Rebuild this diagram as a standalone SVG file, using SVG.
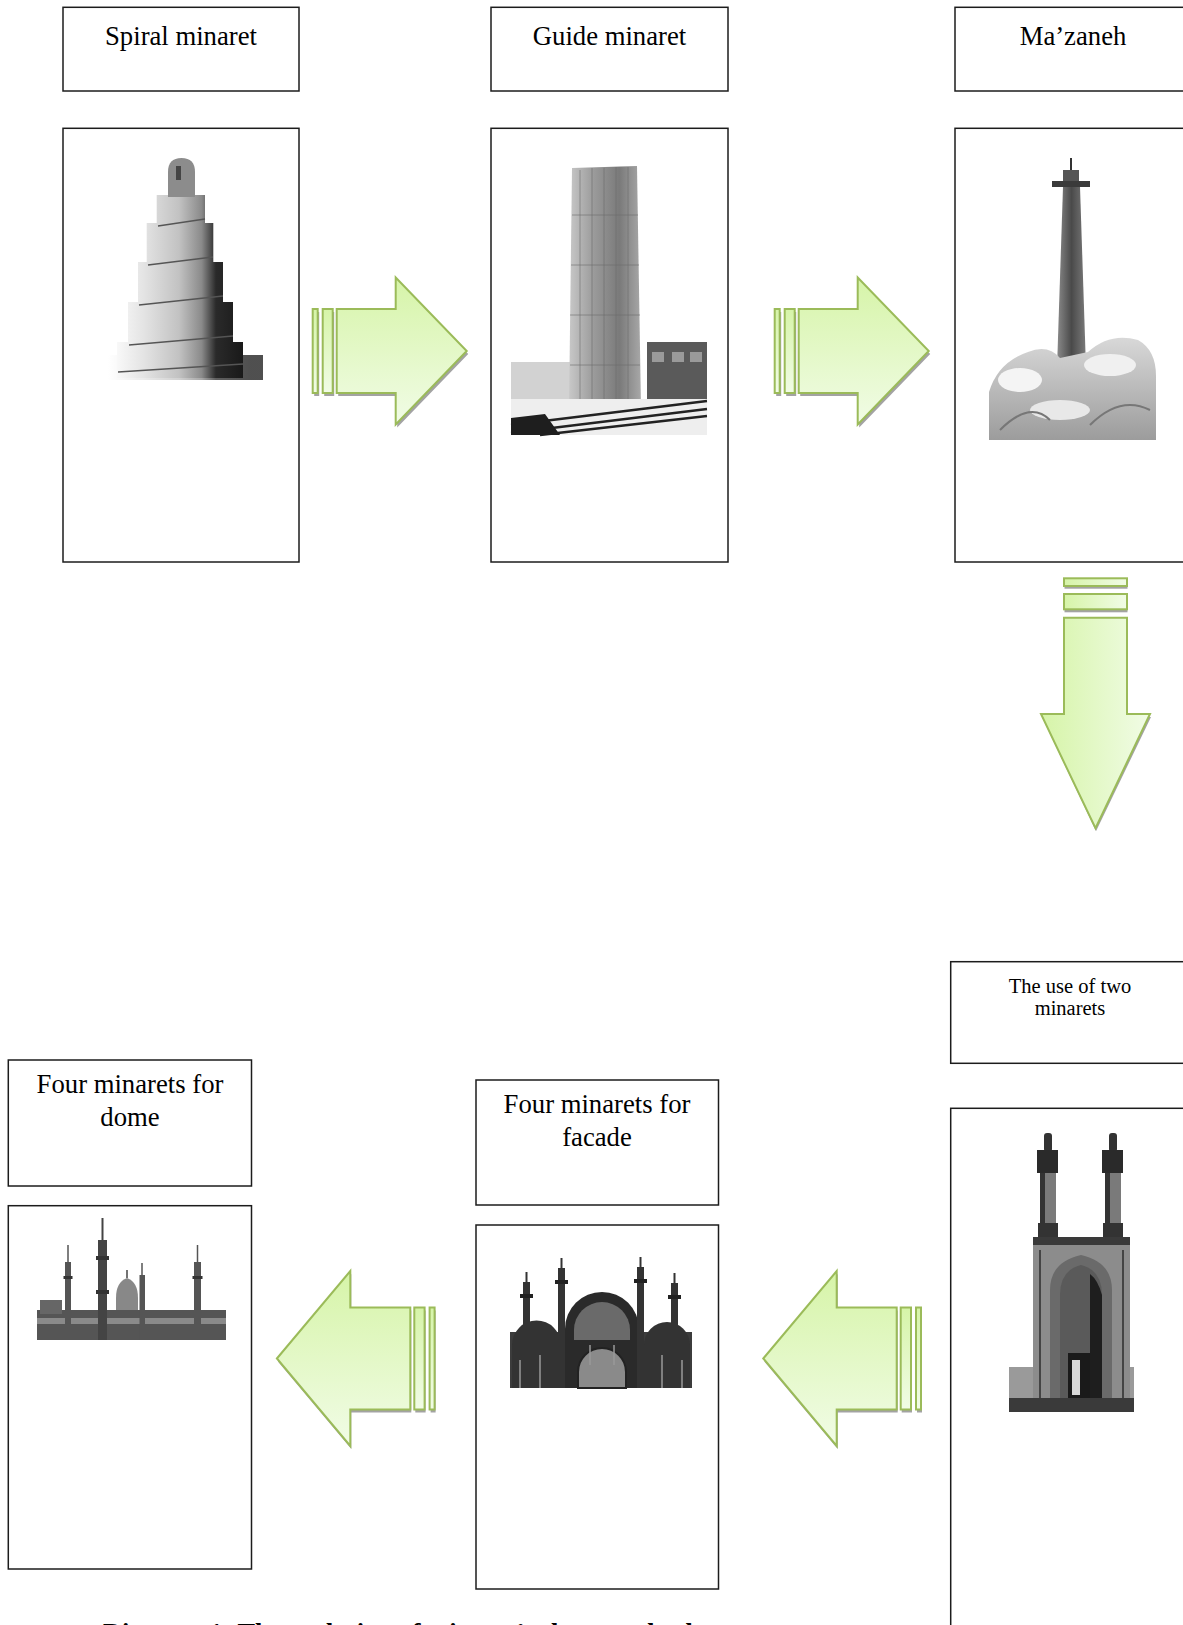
<svg xmlns="http://www.w3.org/2000/svg" width="1183" height="1625" viewBox="0 0 1183 1625">
<defs>
<style>
.box{fill:#fff;stroke:#1c1c1c;stroke-width:1.5}
.t{font-family:"Liberation Serif","Times New Roman",serif;fill:#000;text-anchor:middle}
.arr{fill:url(#gArr);stroke:#9bbb59;stroke-width:2;stroke-linejoin:miter}
.arrD{fill:url(#gArrD);stroke:#9bbb59;stroke-width:2;stroke-linejoin:miter}
.shd{fill:#a3a3a3}
.dk{fill:#2c2c2c}
.ln{stroke:#555;stroke-width:1.4;fill:none}
</style>
<linearGradient id="gArr" x1="0" y1="0" x2="0" y2="1">
<stop offset="0" stop-color="#d6f4a8"/>
<stop offset="1" stop-color="#f1fce6"/>
</linearGradient>
<linearGradient id="gArrD" x1="0" y1="0" x2="1" y2="0">
<stop offset="0" stop-color="#d6f4a8"/>
<stop offset="1" stop-color="#f1fce6"/>
</linearGradient>
<linearGradient id="gSp" gradientUnits="userSpaceOnUse" x1="108" y1="0" x2="250" y2="0">
<stop offset="0" stop-color="#ffffff"/>
<stop offset="0.25" stop-color="#e4e4e4"/>
<stop offset="0.5" stop-color="#c2c2c2"/>
<stop offset="0.66" stop-color="#8a8a8a"/>
<stop offset="0.76" stop-color="#2a2a2a"/>
<stop offset="1" stop-color="#151515"/>
</linearGradient>
<linearGradient id="gTower" x1="0" y1="0" x2="1" y2="0">
<stop offset="0" stop-color="#c8c8c8"/>
<stop offset="0.35" stop-color="#9a9a9a"/>
<stop offset="0.7" stop-color="#7a7a7a"/>
<stop offset="1" stop-color="#a8a8a8"/>
</linearGradient>
<linearGradient id="gMaz" x1="0" y1="0" x2="1" y2="0">
<stop offset="0" stop-color="#8a8a8a"/>
<stop offset="0.5" stop-color="#4a4a4a"/>
<stop offset="1" stop-color="#7a7a7a"/>
</linearGradient>
<linearGradient id="gSnow" x1="0" y1="0" x2="0" y2="1">
<stop offset="0" stop-color="#d8d8d8"/>
<stop offset="1" stop-color="#9c9c9c"/>
</linearGradient>
<g id="arrowR">
<rect class="shd" x="1.5" y="-39" width="5" height="84"/>
<rect class="shd" x="11.5" y="-39" width="10" height="84"/>
<path class="shd" d="M25.5,-39 H84.5 V-70.5 L155.5,3 L84.5,76.5 V45 H25.5 Z"/>
<rect class="arr" x="0" y="-42" width="5" height="84"/>
<rect class="arr" x="10" y="-42" width="10" height="84"/>
<path class="arr" d="M24,-42 H83 V-73.5 L154,0 L83,73.5 V42 H24 Z"/>
</g>
<g id="arrowL">
<path class="shd" d="M1,3 L74.4,-84.5 V-48 H134.4 V54 H74.4 V90.5 Z"/>
<rect class="shd" x="138.4" y="-48" width="10.3" height="102"/>
<rect class="shd" x="153.7" y="-48" width="5" height="102"/>
<path class="arr" d="M0,0 L73.4,-87.5 V-51 H133.4 V51 H73.4 V87.5 Z"/>
<rect class="arr" x="137.4" y="-51" width="10.3" height="102"/>
<rect class="arr" x="152.7" y="-51" width="5" height="102"/>
</g>
</defs>
<rect x="0" y="0" width="1183" height="1625" fill="#fff"/>

<g id="node-spiral">
<rect class="box" x="63" y="7.3" width="236" height="83.7"/>
<text class="t" x="181" y="45" font-size="26.7">Spiral minaret</text>
<rect class="box" x="63" y="128.3" width="236" height="433.7"/>
<rect x="108" y="355" width="155" height="25" fill="url(#gSp)" opacity="0.75"/>
<rect x="117" y="342" width="126" height="36" fill="url(#gSp)"/>
<rect x="128" y="302" width="105" height="40" fill="url(#gSp)"/>
<rect x="138" y="262" width="85" height="40" fill="url(#gSp)"/>
<rect x="146.7" y="223" width="66.6" height="39" fill="url(#gSp)"/>
<rect x="156.7" y="195" width="48.3" height="28" fill="url(#gSp)"/>
<path d="M168,197 V172 Q168,158 181.5,158 Q195,158 195,172 V197 Z" fill="#8c8c8c"/>
<rect x="176" y="166" width="5" height="14" fill="#444"/>
<path class="ln" d="M158,226 L205,219 M148,265 L213,257 M139,305 L223,296 M129,345 L233,336 M118,372 L243,364"/>
</g>

<g id="node-guide">
<rect class="box" x="491" y="7.3" width="237" height="83.7"/>
<text class="t" x="609.5" y="45" font-size="26.7">Guide minaret</text>
<rect class="box" x="491" y="128.3" width="237" height="433.7"/>
<rect x="511" y="362" width="59" height="47" fill="#d2d2d2"/>
<path d="M572,168 L637,166 L641,409 L569,409 Z" fill="url(#gTower)"/>
<path d="M580,170 V405 M592,168 V407 M604,168 V408 M616,167 V408 M628,167 V408 M572,215 H638 M571,265 H639 M570,315 H640 M570,365 H640" stroke="#6a6a6a" stroke-width="1" fill="none" opacity="0.6"/>
<rect x="647" y="342" width="60" height="67" fill="#5a5a5a"/>
<rect x="652" y="352" width="12" height="10" fill="#9a9a9a"/>
<rect x="672" y="352" width="12" height="10" fill="#9a9a9a"/>
<rect x="690" y="352" width="12" height="10" fill="#9a9a9a"/>
<rect x="511" y="399" width="196" height="36" fill="#eeeeee"/>
<path d="M511,425 L707,401 M511,433 L707,409 M540,435 L707,416" stroke="#222" stroke-width="2.5" fill="none"/>
<path d="M511,435 L511,418 L545,414 L560,435 Z" fill="#1e1e1e"/>
</g>

<g id="node-mazaneh">
<rect class="box" x="955" y="7.3" width="236" height="83.7"/>
<text class="t" x="1073" y="45" font-size="26.7">Ma’zaneh</text>
<rect class="box" x="955" y="128.3" width="236" height="433.7"/>
<line x1="1071" y1="158" x2="1071" y2="172" stroke="#333" stroke-width="2"/>
<rect x="1063" y="170" width="16" height="12" fill="#555"/>
<rect x="1052" y="181" width="38" height="6" fill="#3a3a3a"/>
<path d="M1063,187 H1080 L1086,368 H1057 Z" fill="url(#gMaz)"/>
<path d="M989,440 L989,392 Q998,362 1028,352 Q1048,344 1060,358 L1088,352 Q1110,332 1138,340 Q1156,350 1156,376 L1156,440 Z" fill="url(#gSnow)"/>
<ellipse cx="1020" cy="380" rx="22" ry="12" fill="#f4f4f4"/>
<ellipse cx="1110" cy="365" rx="26" ry="11" fill="#f0f0f0"/>
<ellipse cx="1060" cy="410" rx="30" ry="10" fill="#e8e8e8"/>
<path d="M1000,430 Q1030,400 1050,420 M1090,425 Q1120,395 1150,410" stroke="#777" stroke-width="2" fill="none"/>
</g>

<g id="node-two">
<rect class="box" x="950.7" y="961.7" width="236" height="101.6"/>
<text class="t" x="1070" y="993" font-size="20.5">The use of two</text>
<text class="t" x="1070" y="1015" font-size="20.5">minarets</text>
<rect class="box" x="950.7" y="1108.3" width="236" height="600"/>
<rect x="1044" y="1133" width="8" height="19" rx="3" fill="#333"/>
<rect x="1037" y="1150" width="21" height="23" fill="#2a2a2a"/>
<rect x="1040" y="1173" width="16" height="65" fill="#7a7a7a"/>
<rect x="1040" y="1173" width="5" height="65" fill="#333"/>
<rect x="1038" y="1223" width="20" height="14" fill="#333"/>
<rect x="1109" y="1133" width="8" height="19" rx="3" fill="#333"/>
<rect x="1102" y="1150" width="21" height="23" fill="#2a2a2a"/>
<rect x="1105" y="1173" width="16" height="65" fill="#7a7a7a"/>
<rect x="1105" y="1173" width="5" height="65" fill="#333"/>
<rect x="1103" y="1223" width="20" height="14" fill="#333"/>
<rect x="1009" y="1367" width="125" height="45" fill="#9a9a9a"/>
<rect x="1033" y="1237" width="97" height="175" fill="#8c8c8c"/>
<rect x="1033" y="1237" width="97" height="8" fill="#3a3a3a"/>
<path d="M1040,1250 V1405 M1123,1250 V1405" stroke="#444" stroke-width="2"/>
<path d="M1050,1405 V1290 Q1050,1262 1081,1255 Q1112,1262 1112,1290 V1405 Z" fill="#6a6a6a"/>
<path d="M1060,1403 V1295 Q1060,1270 1081,1265 Q1102,1270 1102,1295 V1403 Z" fill="#5a5a5a"/>
<path d="M1090,1403 V1274 Q1098,1280 1102,1295 V1403 Z" fill="#1e1e1e"/>
<rect x="1068" y="1353" width="22" height="50" fill="#1a1a1a"/>
<rect x="1072" y="1360" width="8" height="35" fill="#d8d8d8"/>
<rect x="1009" y="1398" width="125" height="14" fill="#3a3a3a"/>
</g>

<g id="node-facade">
<rect class="box" x="476" y="1080" width="242.5" height="125"/>
<text class="t" x="597" y="1113" font-size="26.7">Four minarets for</text>
<text class="t" x="597" y="1146" font-size="26.7">facade</text>
<rect class="box" x="476" y="1225" width="242.5" height="364"/>
<rect x="510" y="1332" width="182" height="56" fill="#3c3c3c"/>
<path d="M512,1388 V1345 A24.5,24.5 0 0 1 561,1345 V1388 Z" fill="#333"/>
<path d="M644,1388 V1345 A23,23 0 0 1 690,1345 V1388 Z" fill="#333"/>
<path d="M565,1388 V1329 A37,37 0 0 1 639,1329 V1388 Z" fill="#2a2a2a"/>
<path d="M574,1340 V1330 A28,28 0 0 1 630,1330 V1340 Z" fill="#6a6a6a"/>
<path d="M578,1388 V1372 A24,24 0 0 1 626,1372 V1388 Z" fill="#8a8a8a" stroke="#222" stroke-width="2"/>
<path d="M520,1360 V1388 M540,1355 V1388 M662,1355 V1388 M682,1360 V1388 M590,1345 V1365 M614,1345 V1365" stroke="#999" stroke-width="1.5"/>
<rect x="523" y="1282" width="7" height="106" fill="#333"/>
<rect x="520" y="1294" width="13" height="4" fill="#222"/>
<line x1="526.5" y1="1272" x2="526.5" y2="1282" stroke="#333" stroke-width="2"/>
<rect x="558" y="1268" width="7" height="120" fill="#333"/>
<rect x="555" y="1280" width="13" height="4" fill="#222"/>
<line x1="561.5" y1="1258" x2="561.5" y2="1268" stroke="#333" stroke-width="2"/>
<rect x="637" y="1267" width="7" height="121" fill="#333"/>
<rect x="634" y="1279" width="13" height="4" fill="#222"/>
<line x1="640.5" y1="1257" x2="640.5" y2="1267" stroke="#333" stroke-width="2"/>
<rect x="671" y="1283" width="7" height="105" fill="#333"/>
<rect x="668" y="1295" width="13" height="4" fill="#222"/>
<line x1="674.5" y1="1273" x2="674.5" y2="1283" stroke="#333" stroke-width="2"/>
</g>

<g id="node-dome">
<rect class="box" x="8.3" y="1060" width="243.2" height="126"/>
<text class="t" x="130" y="1093" font-size="26.7">Four minarets for</text>
<text class="t" x="130" y="1126" font-size="26.7">dome</text>
<rect class="box" x="8.3" y="1205.7" width="243.2" height="363.3"/>
<rect x="37" y="1310" width="189" height="30" fill="#555"/>
<rect x="37" y="1318" width="189" height="6" fill="#8a8a8a"/>
<rect x="40" y="1300" width="22" height="14" fill="#666"/>
<path d="M116,1310 V1298 Q116,1282 127,1278 Q138,1282 138,1298 V1310 Z" fill="#888"/>
<line x1="127" y1="1270" x2="127" y2="1278" stroke="#444" stroke-width="1.5"/>
<rect x="98" y="1240" width="9" height="100" fill="#444"/>
<rect x="96" y="1256" width="13" height="4" fill="#333"/>
<rect x="96" y="1290" width="13" height="4" fill="#333"/>
<line x1="102.5" y1="1218" x2="102.5" y2="1240" stroke="#444" stroke-width="2"/>
<rect x="65" y="1262" width="6" height="78" fill="#555"/>
<rect x="63.5" y="1276" width="9" height="3" fill="#333"/>
<line x1="68" y1="1245" x2="68" y2="1262" stroke="#555" stroke-width="1.5"/>
<rect x="194" y="1262" width="7" height="78" fill="#555"/>
<rect x="192.5" y="1276" width="10" height="3" fill="#333"/>
<line x1="197.5" y1="1245" x2="197.5" y2="1262" stroke="#555" stroke-width="1.5"/>
<rect x="139.5" y="1275" width="5.5" height="65" fill="#555"/>
<line x1="142" y1="1263" x2="142" y2="1275" stroke="#555" stroke-width="1.5"/>
</g>

<g id="connectors">
<use href="#arrowR" transform="translate(312.7,351)"/>
<use href="#arrowR" transform="translate(774.7,351)"/>
<g id="arrow-down">
<rect class="shd" x="1064.5" y="581" width="63" height="7.7"/>
<rect class="shd" x="1064.5" y="597" width="63" height="15.3"/>
<path class="shd" d="M1064.5,620.7 H1127.5 V717 H1151 L1096,831.3 L1042,717 H1064.5 Z"/>
<rect class="arrD" x="1064" y="578.3" width="63" height="7.7"/>
<rect class="arrD" x="1064" y="594" width="63" height="15.3"/>
<path class="arrD" d="M1064,617.7 H1127 V714 H1150 L1095.5,828.3 L1041,714 H1064 Z"/>
</g>
<use href="#arrowL" transform="translate(763.3,1358.5)"/>
<use href="#arrowL" transform="translate(276.9,1358.5)"/>
</g>

<text x="103" y="1642" font-family="Liberation Serif, Times New Roman, serif" font-weight="bold" font-size="26.4">Diagram 1: The evolution of minaret’s shape and role</text>
</svg>
